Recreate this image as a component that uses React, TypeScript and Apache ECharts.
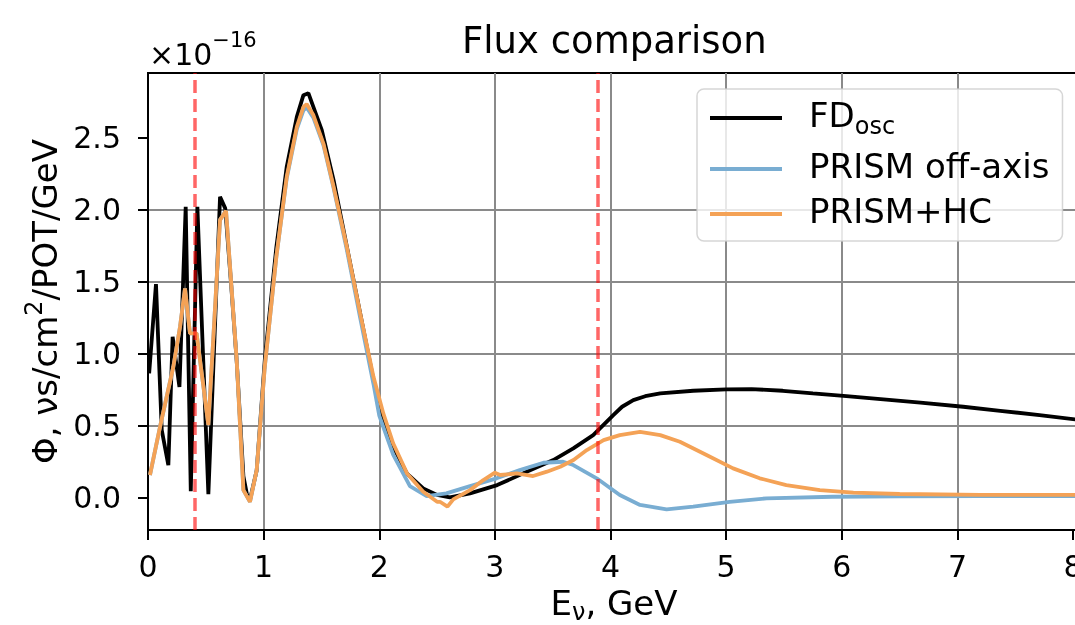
import React, { useEffect, useRef } from "react";
import * as echarts from "echarts";

const FONT = "DejaVu Sans";

// FD oscillated flux (black), ×1e-16
const fdE = [0.01, 0.069, 0.119, 0.176, 0.213, 0.272, 0.326, 0.37, 0.427, 0.522, 0.623, 0.668, 0.72, 0.767, 0.825, 0.854, 0.88, 0.94, 1.01, 1.11, 1.2, 1.287, 1.344, 1.387, 1.43, 1.503, 1.605, 1.72, 1.835, 1.95, 2.035, 2.122, 2.238, 2.38, 2.5, 2.61, 2.785, 3.02, 3.275, 3.505, 3.678, 3.85, 4.024, 4.1, 4.197, 4.3, 4.43, 4.715, 5.0, 5.22, 5.49, 5.75, 6.04, 6.36, 6.68, 7.05, 7.37, 7.71, 8.06];
const fdFlux = [0.864, 1.484, 0.47, 0.227, 1.118, 0.77, 2.02, 0.045, 2.02, 0.025, 2.09, 2.01, 1.47, 0.95, 0.15, 0.03, -0.02, 0.19, 0.956, 1.74, 2.3, 2.646, 2.796, 2.81, 2.715, 2.553, 2.206, 1.743, 1.28, 0.817, 0.54, 0.354, 0.169, 0.065, 0.02, 0.003, 0.03, 0.088, 0.18, 0.262, 0.343, 0.435, 0.574, 0.632, 0.678, 0.705, 0.725, 0.743, 0.753, 0.755, 0.743, 0.725, 0.706, 0.683, 0.66, 0.632, 0.604, 0.574, 0.54];

// PRISM off-axis (blue)
const offE = [0.017, 0.104, 0.219, 0.277, 0.32, 0.363, 0.42, 0.522, 0.623, 0.675, 0.767, 0.825, 0.882, 0.94, 1.01, 1.11, 1.2, 1.287, 1.344, 1.372, 1.43, 1.517, 1.605, 1.72, 1.835, 1.95, 2.0, 2.12, 2.265, 2.41, 2.58, 2.785, 3.015, 3.215, 3.42, 3.59, 3.678, 3.88, 4.08, 4.255, 4.485, 4.715, 5.03, 5.35, 5.92, 6.5, 7.2, 8.06];
const offFlux = [0.158, 0.493, 0.91, 1.188, 1.454, 1.142, 1.142, 0.505, 1.93, 1.993, 0.956, 0.053, -0.028, 0.192, 0.91, 1.674, 2.22, 2.56, 2.69, 2.71, 2.64, 2.45, 2.15, 1.72, 1.25, 0.79, 0.57, 0.3, 0.08, 0.012, 0.03, 0.081, 0.135, 0.192, 0.243, 0.25, 0.227, 0.135, 0.019, -0.05, -0.08, -0.062, -0.028, -0.004, 0.007, 0.01, 0.012, 0.012];

// PRISM + HC (orange)
const hcE = [0.017, 0.104, 0.219, 0.277, 0.32, 0.363, 0.42, 0.522, 0.623, 0.675, 0.767, 0.825, 0.882, 0.94, 1.01, 1.11, 1.2, 1.287, 1.344, 1.372, 1.43, 1.517, 1.605, 1.72, 1.835, 1.95, 2.035, 2.12, 2.24, 2.38, 2.5, 2.525, 2.59, 2.64, 2.785, 2.9, 3.0, 3.045, 3.19, 3.33, 3.45, 3.565, 3.68, 3.795, 3.94, 4.08, 4.255, 4.43, 4.6, 4.83, 5.06, 5.29, 5.52, 5.81, 6.1, 6.5, 7.2, 8.06];
const hcFlux = [0.158, 0.493, 0.91, 1.188, 1.454, 1.142, 1.142, 0.505, 1.93, 1.993, 0.956, 0.053, -0.028, 0.192, 0.91, 1.674, 2.23, 2.576, 2.715, 2.734, 2.658, 2.46, 2.16, 1.74, 1.28, 0.84, 0.586, 0.378, 0.169, 0.042, -0.028, -0.028, -0.062, -0.011, 0.053, 0.123, 0.174, 0.158, 0.169, 0.151, 0.181, 0.215, 0.262, 0.331, 0.4, 0.435, 0.458, 0.435, 0.389, 0.297, 0.204, 0.135, 0.088, 0.053, 0.035, 0.026, 0.02, 0.02];

const cutLines = [0.4, 3.89];
const xTicks = [0, 1, 2, 3, 4, 5, 6, 7, 8];
const yTicks = [0, 0.5, 1, 1.5, 2, 2.5];
const seriesNames = ["FD", "PRISM off-axis", "PRISM+HC"];

const zip = (a: number[], b: number[]) => a.map((x, i) => [x, b[i]]);

export default function App() {
  const ref = useRef<HTMLDivElement>(null);
  useEffect(() => {
    if (!ref.current) return;
    const chart = echarts.init(ref.current, undefined, { renderer: "svg" });
    const lineSeries = (name: string, data: number[][], color: string, extra: any = {}) => ({
      type: "line",
      name,
      data,
      symbol: "none",
      showSymbol: false,
      itemStyle: { color },
      lineStyle: { color, width: 3.8 },
      emphasis: { disabled: true },
      ...extra,
    });
    chart.setOption({
      animation: false,
      title: {
        text: "Flux comparison",
        left: 462,
        top: 22,
        padding: 0,
        textStyle: { fontFamily: FONT, fontSize: 37, fontWeight: "normal", color: "#000" },
      },
      grid: {
        left: 148,
        top: 73,
        width: 932,
        height: 457,
        outerBoundsMode: "none",
        containLabel: false,
        show: true,
        borderColor: "#000",
        borderWidth: 2,
        backgroundColor: "transparent",
      },
      legend: {
        show: true,
        orient: "vertical",
        left: 697,
        top: 89,
        data: seriesNames,
        icon: "rect",
        itemWidth: 72,
        itemHeight: 4,
        itemGap: 11,
        padding: [9, 13, 13, 13],
        backgroundColor: "rgba(255,255,255,0.8)",
        borderColor: "rgba(204,204,204,0.8)",
        borderWidth: 1.5,
        borderRadius: 7,
        selectedMode: false,
        itemStyle: { borderWidth: 0 },
        formatter: (name: string) => (name === "FD" ? "{m|FD}{s|osc}" : "{m|" + name + "}"),
        textStyle: {
          fontFamily: FONT,
          fontSize: 34,
          color: "#000",
          padding: [0, 0, 0, 22],
          rich: {
            m: { fontFamily: FONT, fontSize: 34, lineHeight: 40, verticalAlign: "top", color: "#000" },
            s: { fontFamily: FONT, fontSize: 24, lineHeight: 25, verticalAlign: "bottom", color: "#000" },
          },
        },
      },
      graphic: [
        {
          type: "text",
          x: 149,
          y: 29.5,
          style: {
            text: "{a|×10}{b|−16}",
            align: "left",
            verticalAlign: "top",
            fill: "#000",
            rich: {
              a: { fontFamily: FONT, fontSize: 30, lineHeight: 40, verticalAlign: "bottom", fill: "#000" },
              b: { fontFamily: FONT, fontSize: 21, lineHeight: 25, verticalAlign: "top", fill: "#000" },
            },
          },
        },
      ],
      xAxis: {
        type: "value",
        min: 0,
        max: 8.06,
        interval: 1,
        name: "{m|E}{s|ν}{m|, GeV}",
        nameLocation: "middle",
        nameGap: 56,
        nameTextStyle: {
          fontFamily: FONT,
          fontSize: 34,
          color: "#000",
          rich: {
            m: { fontFamily: FONT, fontSize: 34, lineHeight: 38, verticalAlign: "top", color: "#000" },
            s: { fontFamily: FONT, fontSize: 24, lineHeight: 23, verticalAlign: "bottom", color: "#000" },
          },
        },
        axisLine: { show: true, onZero: false, lineStyle: { color: "#000", width: 2 } },
        axisTick: { show: true, length: 10, customValues: xTicks, lineStyle: { color: "#000", width: 2 } },
        axisLabel: {
          customValues: xTicks,
          margin: 21,
          fontFamily: FONT,
          fontSize: 30,
          color: "#000",
          formatter: (v: number) => String(Math.round(v)),
        },
        splitLine: { show: true, showMinLine: false, showMaxLine: false, lineStyle: { color: "#8a8a8a", width: 2 } },
      },
      yAxis: {
        type: "value",
        min: -0.224,
        max: 2.95,
        splitNumber: 6,
        name: "{m|Φ, νs/cm}{p|2}{m|/POT/GeV}",
        nameLocation: "middle",
        nameGap: 81,
        nameRotate: 90,
        nameTextStyle: {
          fontFamily: FONT,
          fontSize: 34,
          color: "#000",
          rich: {
            m: { fontFamily: FONT, fontSize: 34, lineHeight: 40, verticalAlign: "bottom", color: "#000" },
            p: { fontFamily: FONT, fontSize: 24, lineHeight: 25, verticalAlign: "top", color: "#000" },
          },
        },
        axisLine: { show: true, onZero: false, lineStyle: { color: "#000", width: 2 } },
        axisTick: { show: true, length: 10, customValues: yTicks, lineStyle: { color: "#000", width: 2 } },
        axisLabel: {
          customValues: yTicks,
          margin: 27,
          fontFamily: FONT,
          fontSize: 30,
          color: "#000",
          formatter: (v: number) => v.toFixed(1),
        },
        splitLine: { show: true, showMinLine: false, showMaxLine: false, lineStyle: { color: "#8a8a8a", width: 2 } },
      },
      series: [
        lineSeries("FD", zip(fdE, fdFlux), "#000000", { z: 2 }),
        lineSeries("PRISM off-axis", zip(offE, offFlux), "#79add2", { z: 3 }),
        lineSeries("PRISM+HC", zip(hcE, hcFlux), "#f4a256", {
          z: 4,
          markLine: {
            silent: true,
            symbol: ["none", "none"],
            label: { show: false },
            emphasis: { disabled: true },
            lineStyle: { color: "rgba(255,0,0,0.6)", width: 3.5, type: [13, 6] },
            data: cutLines.map((x) => ({ xAxis: x })),
          },
        }),
      ],
    });
    return () => chart.dispose();
  }, []);
  return <div ref={ref} style={{ position: "fixed", left: 0, top: 0, width: 1075, height: 625 }} />;
}
